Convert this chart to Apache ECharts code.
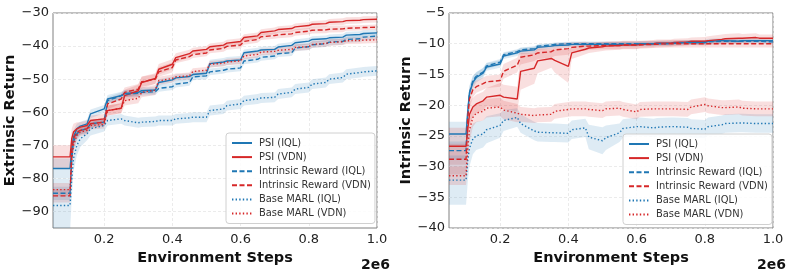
<!DOCTYPE html>
<html>
<head>
<meta charset="utf-8">
<script src="https://cdn.jsdelivr.net/npm/echarts@6/dist/echarts.min.js"></script>
<style>html,body{margin:0;padding:0;background:#fff}#c{width:793px;height:274px}</style>
</head>
<body>
<div id="c"></div>
<script>
// x positions (units of 2e6 environment steps)
const X = [0.05,0.1,0.105,0.11,0.12,0.13,0.15,0.16,0.2,0.21,0.25,0.26,0.3,0.31,0.35,0.36,0.4,0.41,0.45,0.46,0.5,0.51,0.55,0.56,0.6,0.61,0.65,0.66,0.7,0.71,0.75,0.76,0.8,0.81,0.85,0.86,0.9,0.91,0.95,0.96,1.0];
const xTicks = [0.2,0.4,0.6,0.8,1.0];
const yTicksL = [-90,-80,-70,-60,-50,-40,-30];
const yTicksR = [-40,-35,-30,-25,-20,-15,-10,-5];
const names = ['PSI (IQL)','PSI (VDN)','Intrinsic Reward (IQL)','Intrinsic Reward (VDN)','Base MARL (IQL)','Base MARL (VDN)'];

// ---- Extrinsic return (left) ----
const extPsiIql = [-77,-77,-71,-67.5,-65,-64.2,-63.5,-60.5,-59,-56,-55,-54.3,-54,-53.5,-53.3,-51,-50.2,-49.6,-49.2,-48.6,-48.2,-45.3,-44.8,-44.5,-44.2,-42,-41.5,-41.2,-41,-40.3,-39.8,-39,-38.5,-38,-37.8,-37.5,-37.3,-36.7,-36.5,-36.2,-36];
const extPsiVdn = [-73.5,-73.5,-68,-66,-65,-64.5,-64,-62.5,-62,-59.5,-58.8,-55,-53.5,-51,-49.8,-47,-45.5,-43.5,-42.3,-41.5,-41,-40.2,-39.7,-39.1,-38.6,-37.4,-36.9,-35.9,-35.4,-35,-34.7,-34.2,-33.8,-33.4,-33.2,-32.8,-32.6,-32.3,-32.2,-32,-31.9];
const extIrIql = [-84.5,-84.5,-74,-69,-66.5,-65.5,-65,-63.5,-63,-56.5,-55,-54.5,-54.3,-54,-53.8,-52.8,-52.3,-51.5,-51,-49.3,-49,-47.8,-47.3,-47,-46.6,-44.5,-44,-43.4,-43,-42.3,-42,-40.6,-40.2,-39.6,-39.3,-38.8,-38.6,-38,-37.8,-37.3,-37];
const extIrVdn = [-85.3,-85.3,-72,-68,-66,-65.5,-65,-63.5,-63,-57.5,-56,-54,-53,-50.8,-50,-47.8,-46.5,-44.2,-43.2,-42.6,-42.1,-41.2,-40.7,-40.1,-39.7,-38.6,-38,-37.2,-36.8,-36.6,-36.3,-35.9,-35.5,-35.2,-35.1,-34.9,-34.8,-34.6,-34.5,-34.4,-34.3];
const extBaseIql = [-88.2,-88.2,-80,-74,-70,-68,-66.5,-65,-64,-62.5,-62,-62.5,-63.2,-63,-62.8,-62.5,-62.5,-62,-61.7,-61.5,-61.5,-59.5,-59,-58,-57.5,-56.5,-56,-55.7,-55.5,-54.5,-54,-53,-52.5,-51.5,-51,-50,-49.5,-48.5,-48,-47.8,-47.5];
const extBaseVdn = [-83.4,-83.4,-74,-70,-67,-66,-65.5,-64,-63.7,-59.5,-58.8,-56.5,-55.8,-54,-53.3,-50.5,-49.8,-49.3,-49,-47.7,-47.3,-45.5,-45.2,-44.8,-44.5,-43,-42.5,-41.8,-41.6,-41.3,-41,-40.4,-40.2,-39.5,-39.2,-38.9,-38.7,-38.4,-38.3,-38.2,-38.1];
// band half-widths
const extPsiIqlSd = [3,3,2.5,2,1.5,1.3,1.3,1.3,1.2,1.2,1.2,1,1,1,1,1,1,1,1,1,1,1.2,1.2,1.2,1.2,1,1,1,1,1,1,1,1,1,1,1,1,1,1,1,1];
const extPsiVdnSd = [3.5,3.5,3,2.5,2,1.5,1.5,1.5,1.5,1.5,1.5,1.8,1.8,1.8,1.6,1.6,1.5,1.3,1.2,1,1,1,1,1,1,1,1,1,1,1,1,1,1,1,1,1,1,1,1,1,1];
const extIrIqlSd = [2,2,2,2,1.5,1.2,1.2,1.2,1.2,1,1,1,1,1,1,1,1,1,1,1,1,1,1,1,1,1,1,1,1,1,1,1,1,1,1,1,1,1,1,1,1];
const extIrVdnSd = [2,2,2,2,1.5,1.2,1.2,1.2,1.2,1.5,1.5,1.5,1.5,1.5,1.5,1.5,1.5,1,1,1,1,1,1,1,1,1,1,1,1,1,1,1,1,1,1,1,1,0.8,0.8,0.8,0.8];
const extBaseIqlSd = [8,8,6,4,3,2.5,2,2,1.8,1.5,1.5,1.5,1.5,1.5,1.5,1.5,1.5,1.5,1.5,1.5,1.5,1.5,1.5,1.5,1.5,1.5,1.5,1.5,1.5,1.5,1.5,1.5,1.5,1.5,1.5,1.5,1.5,1.5,1.5,1.5,1.5];
const extBaseVdnSd = [2,2,2,2,1.5,1.2,1.2,1.2,1.2,1.5,1.5,1.5,1.5,1.5,1.5,1.2,1.2,1,1,1,1,1,1,1,1,1,1,1,1,1,1,1,1,1,1,1,1,1,1,1,1];

// ---- Intrinsic return (right) ----
const intPsiIql = [-24.7,-24.7,-21,-18,-16.3,-15.5,-14.8,-13.8,-13.3,-12,-11.5,-11.2,-11,-10.6,-10.4,-10.3,-10.2,-10.1,-10.1,-10.1,-10.1,-10.1,-10.1,-10.1,-10.1,-10,-10,-9.9,-9.9,-9.9,-9.8,-9.8,-9.8,-9.6,-9.5,-9.5,-9.6,-9.5,-9.5,-9.5,-9.5];
const intPsiVdn = [-26.7,-26.7,-24,-21.5,-20.3,-19.8,-19.3,-18.7,-18.4,-18.7,-19,-14.5,-14,-12.8,-12.4,-12.7,-13.7,-11.5,-10.9,-10.7,-10.5,-10.4,-10.3,-10.2,-10.2,-10.1,-10,-9.9,-9.9,-9.8,-9.7,-9.6,-9.6,-9.5,-9.3,-9.2,-9.1,-9.1,-9,-9.1,-9.1];
const intIrIql = [-27.4,-27.4,-21.5,-18,-16,-15.3,-14.6,-13.6,-13,-11.8,-11.3,-11,-10.8,-10.4,-10.2,-10.1,-10,-10,-10,-10,-10,-10,-10,-10,-10,-10,-10,-10,-10,-9.9,-9.8,-9.8,-9.8,-9.7,-9.6,-9.6,-9.6,-9.6,-9.6,-9.6,-9.7];
const intIrVdn = [-28.8,-28.8,-22,-19,-17.5,-17,-16.5,-16.2,-16,-14.5,-13.5,-12.2,-11.8,-11.5,-11.3,-11,-10.8,-10.6,-10.4,-10.4,-10.3,-10.3,-10.3,-10.2,-10.2,-10.2,-10.1,-10.1,-10,-10,-10,-10,-10,-10,-10,-10,-10,-10,-10,-10,-10];
const intBaseIql = [-32.2,-32.2,-29,-27,-25.5,-25,-24.7,-24,-23.3,-22.5,-22,-23,-24.2,-24.4,-24.5,-24.5,-24.6,-24,-23.7,-25.2,-25.8,-25.3,-24.5,-23.8,-23.5,-23.5,-23.7,-23.6,-23.5,-23.5,-23.6,-23.8,-23.9,-23.5,-23.2,-23,-22.9,-22.9,-23,-23,-23];
const intBaseVdn = [-31.5,-31.5,-27,-24,-22,-21.3,-21,-20.5,-20.3,-20.8,-21.3,-21.5,-21.7,-21.6,-21.5,-21,-20.7,-20.6,-20.6,-20.7,-20.9,-20.6,-20.5,-20.7,-21.1,-20.7,-20.6,-20.6,-20.6,-20.6,-20.7,-20.3,-19.9,-20.1,-20.4,-20.4,-20.3,-20.5,-20.6,-20.6,-20.6];
const intPsiIqlSd = [2,2,1.5,1.2,1,0.8,0.8,0.6,0.6,0.5,0.5,0.5,0.5,0.4,0.4,0.4,0.4,0.4,0.4,0.4,0.4,0.4,0.4,0.4,0.4,0.4,0.4,0.4,0.4,0.4,0.4,0.4,0.4,0.4,0.4,0.4,0.4,0.4,0.4,0.4,0.4];
const intPsiVdnSd = [3,3,2.5,2,1.5,1.5,1.5,1.5,2,2,2,3,2.5,2,1.5,2,2.7,1,0.8,0.8,0.7,0.7,0.7,0.7,0.7,0.6,0.6,0.6,0.6,0.6,0.6,0.6,0.7,0.7,0.8,0.8,0.8,0.7,0.7,0.6,0.6];
const intIrIqlSd = [1.5,1.5,1.2,1,0.8,0.7,0.7,0.5,0.5,0.4,0.4,0.4,0.4,0.3,0.3,0.3,0.3,0.3,0.3,0.3,0.3,0.3,0.3,0.3,0.3,0.3,0.3,0.3,0.3,0.3,0.3,0.3,0.3,0.3,0.3,0.3,0.3,0.3,0.3,0.3,0.3];
const intIrVdnSd = [2.5,2.5,2,1.5,1.2,1,1,1,1,1.2,1.2,1.2,1,1,1,1,1,0.8,0.7,0.6,0.6,0.6,0.6,0.6,0.6,0.6,0.6,0.6,0.6,0.6,0.6,0.6,0.6,0.6,0.6,0.6,0.6,0.6,0.6,0.6,0.6];
const intBaseIqlSd = [4,4,3.5,3,2.5,2.3,2.2,2.2,2,1.7,1.5,1.5,1.5,1.5,1.5,1.5,1.5,1.5,1.5,2,2.2,2,1.5,1.5,1.5,1.5,1.5,1.5,1.5,1.5,1.5,1.5,1.5,1.5,1.5,1.5,1.5,1.5,1.5,1.5,1.5];
const intBaseVdnSd = [1.5,1.5,2,2,1.5,1.5,1.5,1.5,1.5,1.5,1.5,1.2,1.2,1.2,1.2,1.2,1.2,1.2,1.2,1.2,1.2,1.2,1.2,1.2,1.2,1.2,1.2,1.2,1.2,1.2,1.2,1.2,1.2,1.2,1.2,1.2,1.2,1.2,1.2,1.2,1.2];

const BLUE = '#1f77b4', RED = '#d62728';
const BLUE_BAND = 'rgba(31,119,180,0.15)', RED_BAND = 'rgba(214,39,40,0.15)';
const styles = [
  {color: BLUE, type: 'solid'},
  {color: RED, type: 'solid'},
  {color: BLUE, type: [5, 2.5]},
  {color: RED, type: [5, 2.5]},
  {color: BLUE, type: [1.4, 2.2]},
  {color: RED, type: [1.4, 2.2]}
];
const leftMeans = [extPsiIql, extPsiVdn, extIrIql, extIrVdn, extBaseIql, extBaseVdn];
const leftSds = [extPsiIqlSd, extPsiVdnSd, extIrIqlSd, extIrVdnSd, extBaseIqlSd, extBaseVdnSd];
const rightMeans = [intPsiIql, intPsiVdn, intIrIql, intIrVdn, intBaseIql, intBaseVdn];
const rightSds = [intPsiIqlSd, intPsiVdnSd, intIrIqlSd, intIrVdnSd, intBaseIqlSd, intBaseVdnSd];

const FONT = 'DejaVu Sans';
const series = [];
function addChart(gi, means, sds) {
  means.forEach((m, s) => {
    const sd = sds[s];
    const band = s % 2 === 0 ? BLUE_BAND : RED_BAND;
    // band as one polygon: upper edge forward, lower edge backward
    const rows = X.map((x, i) => [x, m[i] + sd[i], m[i] - sd[i]]);
    series.push({
      type: 'custom', name: '_band', xAxisIndex: gi, yAxisIndex: gi, silent: true, z: 1, clip: true,
      data: [[X[0], m[0]]],
      renderItem: function (params, api) {
        const up = rows.map(r => api.coord([r[0], r[1]]));
        const lo = rows.slice().reverse().map(r => api.coord([r[0], r[2]]));
        const cs = params.coordSys;
        return {
          type: 'polygon',
          shape: {points: up.concat(lo)},
          style: {fill: band},
          clipPath: {type: 'rect', shape: {x: cs.x, y: cs.y, width: cs.width, height: cs.height}}
        };
      }
    });
  });
  means.forEach((m, s) => {
    series.push({
      type: 'line', name: names[s], xAxisIndex: gi, yAxisIndex: gi, symbol: 'none',
      lineStyle: {color: styles[s].color, type: styles[s].type, width: 1.4},
      itemStyle: {color: styles[s].color},
      data: X.map((x, i) => [x, m[i]]), z: 3
    });
  });
}
addChart(0, leftMeans, leftSds);
addChart(1, rightMeans, rightSds);

const minus = v => String(v).replace('-', '\u2212');
function xAxis(gi) {
  return {
    type: 'value', gridIndex: gi, min: 0.05, max: 1.0,
    name: 'Environment Steps', nameLocation: 'middle', nameGap: 16,
    nameTextStyle: {fontFamily: FONT, fontWeight: 'bold', fontSize: 14.5, color: '#111'},
    axisLine: {show: false},
    axisTick: {show: true, customValues: xTicks, length: 0},
    axisLabel: {customValues: xTicks, formatter: v => v.toFixed(1), fontFamily: FONT, fontSize: 13, color: '#222', margin: 5},
    splitLine: {show: true, lineStyle: {color: '#e6e6e6', type: [3, 2], width: 0.8}}
  };
}
function yAxis(gi, min, max, ticks, name, gap) {
  return {
    type: 'value', gridIndex: gi, min: min, max: max,
    name: name, nameLocation: 'middle', nameGap: gap, nameRotate: 90,
    nameTextStyle: {fontFamily: FONT, fontWeight: 'bold', fontSize: 14.5, color: '#111'},
    axisLine: {show: false},
    axisTick: {show: true, customValues: ticks, length: 0},
    axisLabel: {customValues: ticks, formatter: minus, fontFamily: FONT, fontSize: 13, color: '#222', margin: 4},
    splitLine: {show: true, lineStyle: {color: '#e6e6e6', type: [3, 2], width: 0.8}}
  };
}
function legend(left, top) {
  return {
    data: names, orient: 'vertical', left: left, top: top, icon: 'inherit',
    itemWidth: 20, itemHeight: 10, itemGap: 4.1,
    itemStyle: {opacity: 0},
    padding: [5, 4, 5, 5],
    backgroundColor: 'rgba(255,255,255,0.85)', borderColor: '#d0d0d0', borderWidth: 1, borderRadius: 3,
    textStyle: {fontFamily: FONT, fontSize: 9.9, color: '#333', padding: [0, 0, 0, 2]},
    selectedMode: false
  };
}

const chart = echarts.init(document.getElementById('c'), null, {renderer: 'canvas'});
chart.setOption({
  animation: false,
  backgroundColor: '#fff',
  grid: [
    {left: 53, top: 13, width: 324, height: 215, show: true, borderColor: '#808080', borderWidth: 1, backgroundColor: 'transparent'},
    {left: 449, top: 13, width: 324, height: 215, show: true, borderColor: '#808080', borderWidth: 1, backgroundColor: 'transparent'}
  ],
  xAxis: [xAxis(0), xAxis(1)],
  yAxis: [yAxis(0, -95, -30, yTicksL, 'Extrinsic Return', 28), yAxis(1, -40, -5, yTicksR, 'Intrinsic Return', 27)],
  legend: [legend(226, 133), legend(623, 134)],
  graphic: [
    {type: 'text', right: 793 - 390, top: 258, style: {text: '2e6', font: 'bold 14px "DejaVu Sans"', fill: '#111'}},
    {type: 'text', right: 793 - 786, top: 258, style: {text: '2e6', font: 'bold 14px "DejaVu Sans"', fill: '#111'}}
  ],
  series: series
});
</script>
</body>
</html>
